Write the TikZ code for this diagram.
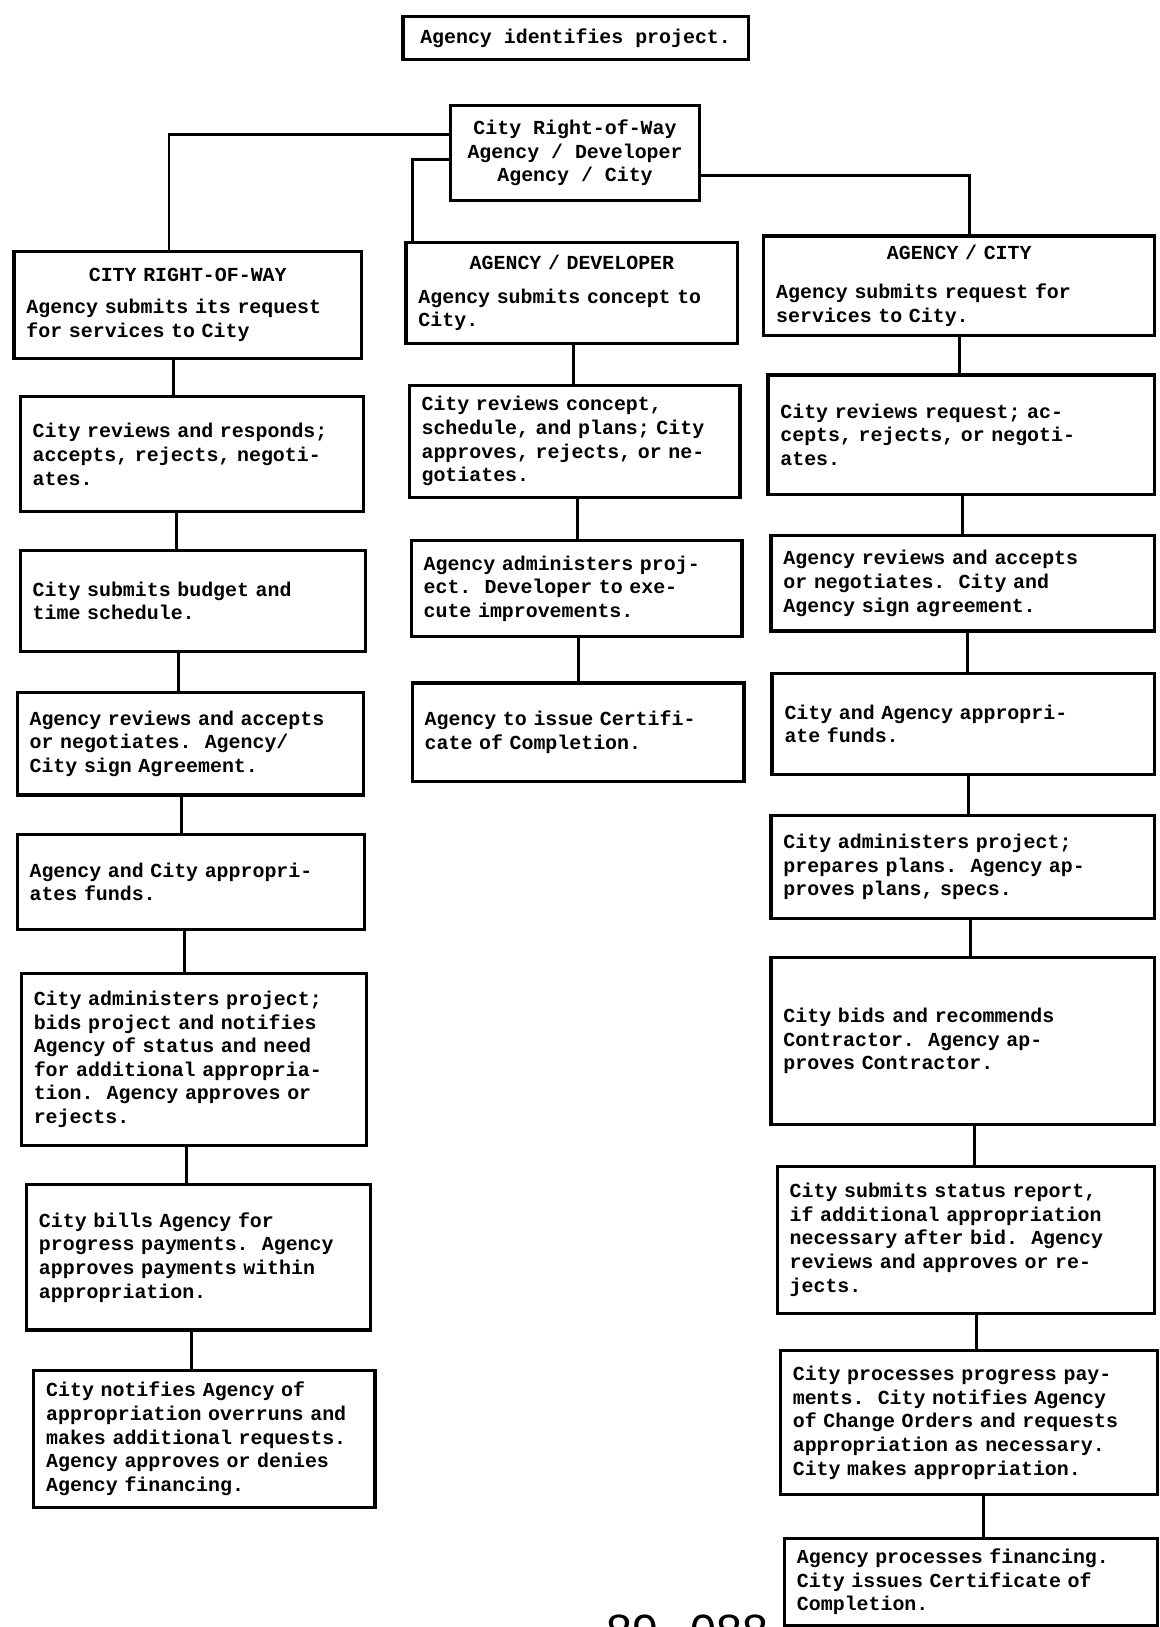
\documentclass[tikz,border=0pt]{standalone}
\usepackage{fontspec}
\newfontfamily\twfont{Liberation Mono}
\newfontfamily\numfont{Liberation Sans}
\newcommand\bx[6]{\node[stepbox, minimum height=#4pt, text width=#5pt] (#1) at (#2,#3) {#6};}
\newcommand\link[3]{\coordinate (k#1#2) at (#3,0); \draw[conn] (#1.south -| k#1#2) -- (#2.north -| k#1#2);}
\begin{document}
\begin{tikzpicture}[x=1pt,y=-1pt,
  stepbox/.style={draw=black, line width=3.1pt, rectangle, anchor=north west, align=left,
    inner xsep=12pt, inner ysep=0pt, font=\twfont\bfseries\fontsize{19.2}{22.8}\selectfont},
  headbox/.style={draw=black, line width=3.1pt, rectangle, anchor=north west, align=center,
    inner sep=0pt, font=\twfont\bfseries\fontsize{19.2}{22.8}\selectfont},
  conn/.style={line width=2.8pt, draw=black}]
\useasboundingbox (0,0) rectangle (1118,1569);
\fill[white] (0,0) rectangle (1118,1569);

\node[headbox, minimum width=333pt, minimum height=42pt] (T) at (387,14) {Agency identifies project.};
\node[headbox, minimum width=240pt, minimum height=92pt] (C) at (433,100) {City Right-of-Way\\Agency / Developer\\Agency / City};

% left column
\bx{L1}{12}{241}{103}{311}{\makebox[\linewidth]{CITY RIGHT-OF-WAY}\\[8pt]Agency submits its request\\for services to City}
\bx{L2}{18}{381}{111}{307}{City reviews and responds;\\accepts, rejects, negoti-\\ates.}
\bx{L3}{18}{529}{98}{309}{City submits budget and\\time schedule.}
\bx{L4}{15}{666}{99}{310}{Agency reviews and accepts\\or negotiates.~~Agency/\\City sign Agreement.}
\bx{L5}{15}{803}{92}{311}{Agency and City appropri-\\ates funds.}
\bx{L6}{19}{937}{166}{309}{City administers project;\\bids project and notifies\\Agency of status and need\\for additional appropria-\\tion.~~Agency approves or\\rejects.}
\bx{L7}{24}{1141}{140}{308}{City bills Agency for\\progress payments.~~Agency\\approves payments within\\appropriation.}
\bx{L8}{31}{1320}{132}{305}{City notifies Agency of\\appropriation overruns and\\makes additional requests.\\Agency approves or denies\\Agency financing.}

% middle column
\bx{M1}{390}{232}{98}{296}{\makebox[\linewidth]{AGENCY / DEVELOPER}\\[10pt]Agency submits concept to\\City.}
\bx{M2}{393}{370}{108}{295}{City reviews concept,\\schedule, and plans; City\\approves, rejects, or ne-\\gotiates.}
\bx{M3}{395}{520}{92}{295}{Agency administers proj-\\ect.~~Developer to exe-\\cute improvements.}
\bx{M4}{396}{657}{95}{296}{Agency to issue Certifi-\\cate of Completion.}

% right column
\bx{R1}{735}{226}{96}{353}{\makebox[\linewidth]{AGENCY / CITY}\\[15pt]Agency submits request for\\services to City.}
\bx{R2}{739}{360}{115}{349}{City reviews request; ac-\\cepts, rejects, or negoti-\\ates.}
\bx{R3}{742}{515}{92}{346}{Agency reviews and accepts\\or negotiates.~~City and\\Agency sign agreement.}
\bx{R4}{743}{648}{97}{345}{City and Agency appropri-\\ate funds.}
\bx{R5}{742}{785}{99}{346}{City administers project;\\prepares plans.~~Agency ap-\\proves plans, specs.}
\bx{R6}{742}{922}{161}{346}{City bids and recommends\\Contractor.~~Agency ap-\\proves Contractor.}
\bx{R7}{748}{1123}{142}{340}{City submits status report,\\if additional appropriation\\necessary after bid.~~Agency\\reviews and approves or re-\\jects.}
\bx{R8}{751}{1301}{139}{340}{City processes progress pay-\\ments.~~City notifies Agency\\of Change Orders and requests\\appropriation as necessary.\\City makes appropriation.}
\bx{R9}{755}{1482}{84}{336}{Agency processes financing.\\City issues Certificate of\\Completion.}

% connectors from the centre box
\coordinate (kl) at (163,130);
\coordinate (km) at (398,154);
\coordinate (kr) at (935,169);
\draw[conn] (C.west |- kl) -| (L1.north -| kl);
\draw[conn] (C.west |- km) -| (M1.north -| km);
\draw[conn] (C.east |- kr) -| (R1.north -| kr);

% column connectors
\link{L1}{L2}{167}
\link{L2}{L3}{170}
\link{L3}{L4}{172}
\link{L4}{L5}{175}
\link{L5}{L6}{178}
\link{L6}{L7}{180}
\link{L7}{L8}{185}
\link{M1}{M2}{553}
\link{M2}{M3}{557}
\link{M3}{M4}{558}
\link{R1}{R2}{925}
\link{R2}{R3}{928}
\link{R3}{R4}{933}
\link{R4}{R5}{934}
\link{R5}{R6}{936}
\link{R6}{R7}{940}
\link{R7}{R8}{942}
\link{R8}{R9}{948}

\node[font=\numfont\fontsize{45}{45}\selectfont, anchor=base west, inner sep=0pt] (num) at (585,1589) {89\hspace{8pt}-\hspace{8pt}088};
\end{tikzpicture}
\end{document}
